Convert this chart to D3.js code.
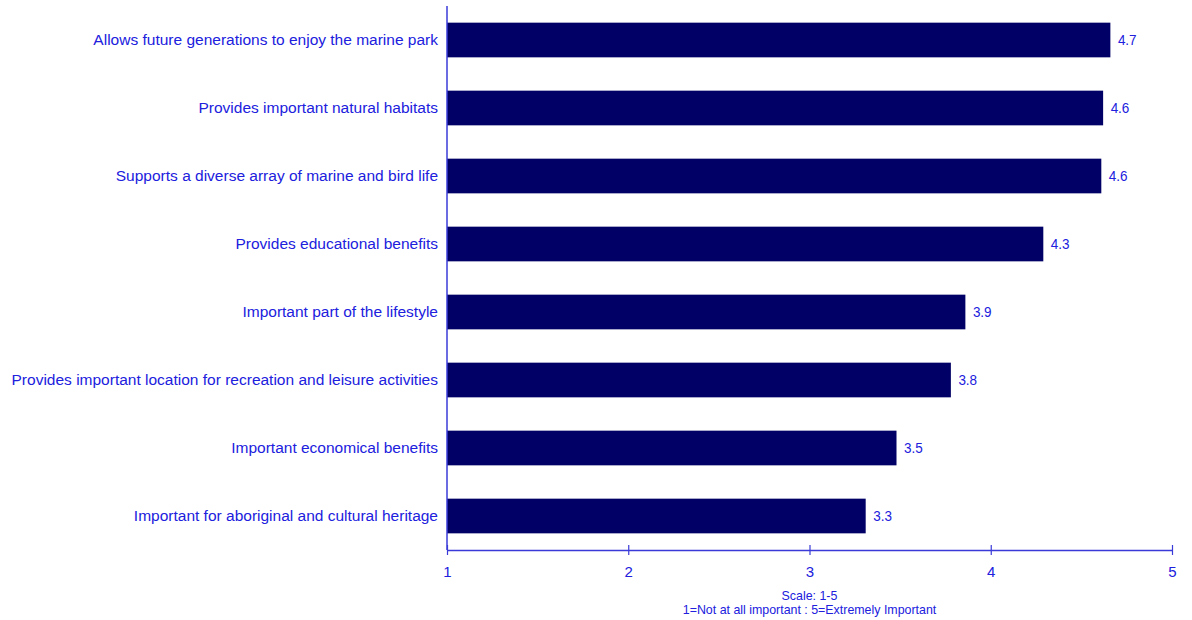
<!DOCTYPE html>
<html><head><meta charset="utf-8">
<script src="https://cdn.jsdelivr.net/npm/d3@7"></script>
<style>body{margin:0;background:#fff}svg{display:block}</style>
</head><body>
<svg id="c" width="1192" height="620"></svg>
<script>
const categories = [
  "Allows future generations to enjoy the marine park",
  "Provides important natural habitats",
  "Supports a diverse array of marine and bird life",
  "Provides educational benefits",
  "Important part of the lifestyle",
  "Provides important location for recreation and leisure activities",
  "Important economical benefits",
  "Important for aboriginal and cultural heritage"
];
const values = [4.66, 4.62, 4.61, 4.29, 3.86, 3.78, 3.48, 3.31];
const valueLabels = ["4.7", "4.6", "4.6", "4.3", "3.9", "3.8", "3.5", "3.3"];
const xTicks = [1, 2, 3, 4, 5];
const footer = ["Scale: 1-5", "1=Not at all important : 5=Extremely Important"];

(function () {
const svg = d3.select("#c");
const mLeft = 447, mRight = 1172, mTop = 6, mBottom = 550;
const textBlue = "#2020dd", axisBlue = "#3a3ad8", barColor = "#000066";
const font = "'Liberation Sans', Arial, sans-serif";

const x = d3.scaleLinear().domain([1, 5]).range([mLeft, mRight]);
const y = d3.scaleBand().domain(categories).range([mTop, mBottom]).paddingInner(0.49).paddingOuter(0.245);

svg.selectAll("rect.bar").data(values).join("rect")
  .attr("class", "bar")
  .attr("x", x(1))
  .attr("y", (d, i) => y(categories[i]))
  .attr("width", d => x(d) - x(1))
  .attr("height", y.bandwidth())
  .attr("fill", barColor);

svg.selectAll("text.val").data(values).join("text")
  .attr("class", "val")
  .attr("transform", (d, i) => `translate(${x(d) + 7.5},${y(categories[i]) + y.bandwidth() / 2}) scale(0.9,1)`)
  .attr("dy", "0.35em")
  .attr("font-family", font)
  .attr("font-size", 15)
  .attr("fill", textBlue)
  .text((d, i) => valueLabels[i]);

svg.selectAll("text.cat").data(categories).join("text")
  .attr("class", "cat")
  .attr("x", mLeft - 9)
  .attr("y", d => y(d) + y.bandwidth() / 2)
  .attr("dy", "0.35em")
  .attr("text-anchor", "end")
  .attr("font-family", font)
  .attr("font-size", 15.5)
  .attr("fill", textBlue)
  .text(d => d);

svg.append("line").attr("x1", mLeft).attr("x2", mLeft).attr("y1", mTop).attr("y2", mBottom)
  .attr("stroke", axisBlue).attr("stroke-width", 1.5);

const xAxis = d3.axisBottom(x).tickValues(xTicks).tickFormat(d3.format("d")).tickSize(0).tickPadding(16);
const gx = svg.append("g").attr("transform", `translate(0,${mBottom})`).call(xAxis);
gx.select(".domain").attr("stroke", axisBlue).attr("stroke-width", 1.5);
gx.selectAll(".tick line").attr("y1", -5).attr("y2", 5).attr("stroke", axisBlue).attr("stroke-width", 1.2);
gx.selectAll(".tick text").attr("font-family", font).attr("font-size", 15).attr("fill", textBlue);

svg.selectAll("text.foot").data(footer).join("text")
  .attr("class", "foot")
  .attr("x", x(3))
  .attr("y", (d, i) => 600 + i * 13.5)
  .attr("text-anchor", "middle")
  .attr("font-family", font)
  .attr("font-size", 12.4)
  .attr("fill", textBlue)
  .text(d => d);
})();
</script>
</body></html>
